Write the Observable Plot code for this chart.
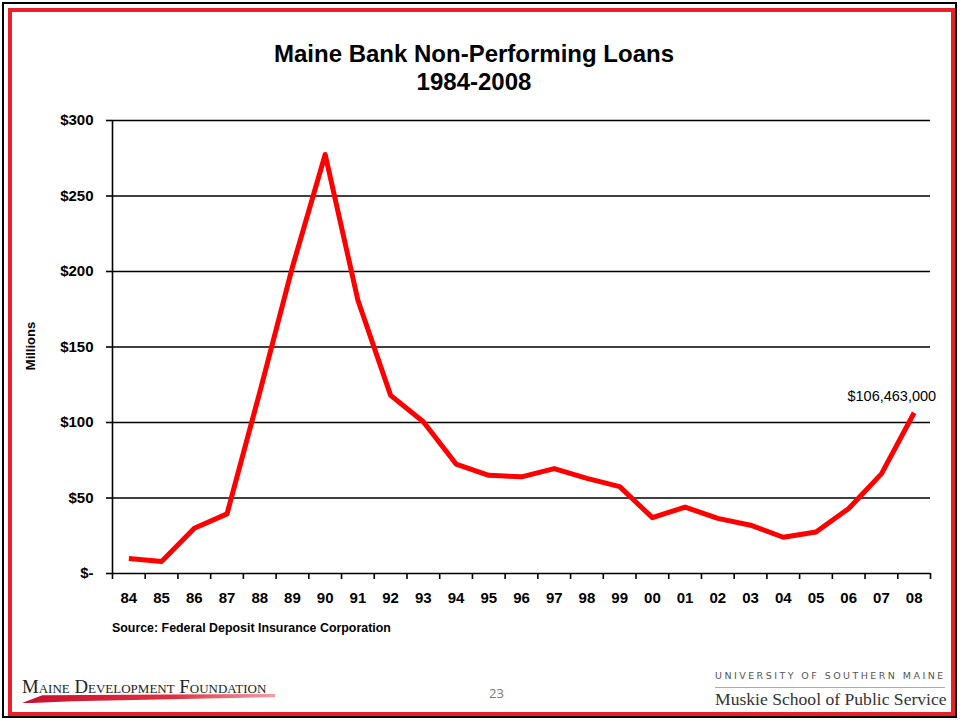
<!DOCTYPE html>
<html>
<head>
<meta charset="utf-8">
<script src="https://cdn.jsdelivr.net/npm/d3@7"></script>
<script src="https://cdn.jsdelivr.net/npm/@observablehq/plot@0.6"></script>
<style>
  html, body { margin: 0; padding: 0; background: #fff; }
  #page { position: relative; width: 960px; height: 721px; overflow: hidden; background: #fff;
          font-family: "Liberation Sans", Arial, sans-serif; }
  #page svg.plot { position: absolute; left: 0; top: 0; }
  .abs { position: absolute; white-space: nowrap; }
  #blackframe { position: absolute; left: 2px; top: 2px; width: 955px; height: 716px; border: 2px solid #000; box-sizing: border-box; }
  #redframe { position: absolute; left: 8px; top: 8px; width: 947px; height: 708px; border: 4px solid #e8202a; box-sizing: border-box; }
  #title { left: 0; width: 948px; top: 40px; text-align: center; font-weight: bold; font-size: 24px; line-height: 28px; color: #000; }
  #ylab { left: 30px; top: 346px; transform: translate(-50%, -50%) rotate(-90deg); font-weight: bold; font-size: 13px; }
  #source { left: 112px; top: 621px; font-weight: bold; font-size: 12.4px; }
  #mdf { left: 22px; top: 676px; font-family: "Liberation Serif", "Times New Roman", serif; font-variant: small-caps; font-size: 18.8px; color: #222; }
  #swoosh { left: 22px; top: 694px; width: 253px; height: 9px;
            background: linear-gradient(to right, #c8102e, #e03040 60%, #f0a0a8);
            clip-path: polygon(0% 100%, 8% 15%, 100% 0%, 100% 35%, 20% 80%, 4% 100%); }
  #pagenum { left: 489px; top: 684px; font-family: "Open Sans", "Liberation Sans", sans-serif; font-size: 13px; color: #777; }
  #usm { left: 715px; top: 670px; font-family: "DejaVu Sans", "Liberation Sans", sans-serif; font-size: 9.5px; letter-spacing: 2.45px; color: #555; }
  #usmline { left: 715px; top: 687px; width: 230px; height: 1px; background: #aaa; }
  #muskie { left: 715px; top: 689px; font-family: "Liberation Serif", "Times New Roman", serif; font-size: 17.6px; color: #333; }
</style>
</head>
<body>
<div id="page">
  <div id="blackframe"></div>
  <div id="redframe"></div>
</div>
<script>
// ---- data ----
const yearLabels = ["84","85","86","87","88","89","90","91","92","93","94","95","96","97","98","99","00","01","02","03","04","05","06","07","08"];
const loansMillions = [9.9, 8, 30, 39.5, 120, 203, 277.5, 181, 118, 100.5, 72.5, 65, 64, 69.5, 63, 57.5, 37, 44, 36.5, 32, 24, 27.5, 43, 66, 106.463];
const yTicks = [0, 50, 100, 150, 200, 250, 300];
const lastLabel = "$106,463,000";

const data = yearLabels.map((y, i) => ({i, year: y, value: loansMillions[i]}));
const centers = d3.range(yearLabels.length);
const boundaries = d3.range(yearLabels.length + 1).map(k => k - 0.5);

const font = '"Liberation Sans", Arial, sans-serif';

const chart = Plot.plot({
  width: 960,
  height: 721,
  marginLeft: 112,
  marginRight: 30,
  marginTop: 120,
  marginBottom: 148,
  style: { background: "transparent", fontFamily: font, color: "#000", overflow: "visible" },
  x: { type: "linear", domain: [-0.5, yearLabels.length - 0.5], axis: null },
  y: { domain: [0, 300], axis: null },
  marks: [
    Plot.ruleY(yTicks, { stroke: "#000", strokeWidth: 1.6 }),
    Plot.ruleX([-0.5], { stroke: "#000", strokeWidth: 1.6 }),
    Plot.axisY({ ticks: yTicks, tickFormat: d => d === 0 ? "$-" : "$" + d, tickSize: 6, tickPadding: 13,
                 fontSize: 15, fontWeight: "bold", stroke: "#000", strokeWidth: 1.6, label: null }),
    Plot.axisX({ ticks: boundaries, tickFormat: () => "", tickSize: 6, stroke: "#000", strokeWidth: 1.6, label: null }),
    Plot.axisX({ ticks: centers, tickFormat: i => yearLabels[i], tickSize: 0, tickPadding: 19,
                 fontSize: 15, fontWeight: "bold", label: null }),
    Plot.line(data, { x: "i", y: "value", stroke: "#ff0000", strokeWidth: 5, strokeLinejoin: "round", strokeLinecap: "butt" }),
    Plot.text([data[data.length - 1]], { x: "i", y: "value", text: () => lastLabel, textAnchor: "end",
               dx: 22, dy: -16, fontSize: 14.5, fill: "#000" })
  ]
});
chart.classList.add("plot");
const page = document.getElementById("page");
page.appendChild(chart);

function addDiv(id, html) {
  const d = document.createElement("div");
  d.id = id; d.className = "abs"; d.innerHTML = html;
  page.appendChild(d);
  return d;
}
addDiv("title", "Maine Bank Non-Performing Loans<br>1984-2008");
addDiv("ylab", "Millions");
addDiv("source", "Source: Federal Deposit Insurance Corporation");
addDiv("mdf", "Maine Development Foundation");
addDiv("swoosh", "");
addDiv("pagenum", "23");
addDiv("usm", "UNIVERSITY OF SOUTHERN MAINE");
addDiv("usmline", "");
addDiv("muskie", "Muskie School of Public Service");
</script>
</body>
</html>
